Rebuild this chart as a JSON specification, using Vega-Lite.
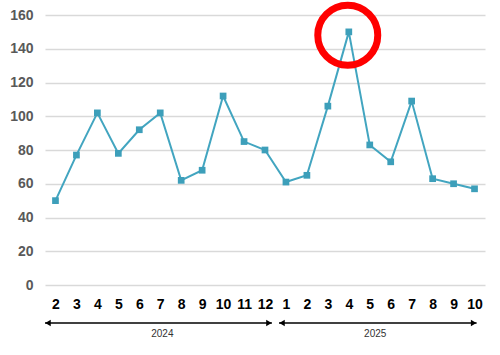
{
  "$schema": "https://vega.github.io/schema/vega-lite/v6.json",
  "width": 440,
  "height": 270,
  "autosize": {"type": "none"},
  "padding": {"left": 45, "top": 15, "right": 15, "bottom": 70},
  "background": "white",
  "config": {
    "view": {"stroke": null},
    "font": "Liberation Sans",
    "axis": {"labelOverlap": false, "labelFlush": false, "domain": false, "ticks": false, "title": null, "labelFontSize": 14, "labelFontWeight": "bold"},
    "axisX": {"grid": false, "labelColor": "#000000", "labelPadding": 12},
    "axisY": {"grid": true, "gridColor": "#d9d9d9", "gridWidth": 1.5, "labelColor": "#595959", "labelPadding": 12}
  },
  "datasets": {
    "series": [
      {"t": 0, "year": 2024, "month": 2, "value": 50},
      {"t": 1, "year": 2024, "month": 3, "value": 77},
      {"t": 2, "year": 2024, "month": 4, "value": 102},
      {"t": 3, "year": 2024, "month": 5, "value": 78},
      {"t": 4, "year": 2024, "month": 6, "value": 92},
      {"t": 5, "year": 2024, "month": 7, "value": 102},
      {"t": 6, "year": 2024, "month": 8, "value": 62},
      {"t": 7, "year": 2024, "month": 9, "value": 68},
      {"t": 8, "year": 2024, "month": 10, "value": 112},
      {"t": 9, "year": 2024, "month": 11, "value": 85},
      {"t": 10, "year": 2024, "month": 12, "value": 80},
      {"t": 11, "year": 2025, "month": 1, "value": 61},
      {"t": 12, "year": 2025, "month": 2, "value": 65},
      {"t": 13, "year": 2025, "month": 3, "value": 106},
      {"t": 14, "year": 2025, "month": 4, "value": 150},
      {"t": 15, "year": 2025, "month": 5, "value": 83},
      {"t": 16, "year": 2025, "month": 6, "value": 73},
      {"t": 17, "year": 2025, "month": 7, "value": 109},
      {"t": 18, "year": 2025, "month": 8, "value": 63},
      {"t": 19, "year": 2025, "month": 9, "value": 60},
      {"t": 20, "year": 2025, "month": 10, "value": 57}
    ],
    "highlight": [{"t": 13.95, "value": 148}],
    "years": [
      {"year": "2024", "start": -0.5, "end": 10.33, "mid": 5.1},
      {"year": "2025", "start": 10.67, "end": 20.1, "mid": 15.26}
    ]
  },
  "layer": [
    {
      "data": {"name": "series"},
      "mark": {
        "type": "line",
        "color": "#42a5c0",
        "strokeWidth": 2,
        "point": {"shape": "square", "size": 45, "filled": true, "color": "#3d9fba", "opacity": 1}
      },
      "encoding": {
        "x": {
          "field": "t",
          "type": "quantitative",
          "scale": {"domain": [-0.5, 20.5], "nice": false, "zero": false},
          "axis": {
            "values": [0,1,2,3,4,5,6,7,8,9,10,11,12,13,14,15,16,17,18,19,20],
            "tickCount": 30,
            "labelExpr": "((datum.value + 1) % 12) + 1"
          }
        },
        "y": {
          "field": "value",
          "type": "quantitative",
          "scale": {"domain": [0, 160], "nice": false},
          "axis": {
            "values": [0, 20, 40, 60, 80, 100, 120, 140, 160],
            "tickCount": 12
          }
        }
      }
    },
    {
      "data": {"name": "highlight"},
      "mark": {"type": "point", "shape": "circle", "filled": false, "size": 3600, "stroke": "#ff0000", "strokeWidth": 7, "opacity": 1},
      "encoding": {
        "x": {"field": "t", "type": "quantitative"},
        "y": {"field": "value", "type": "quantitative"}
      }
    },
    {
      "data": {"name": "years"},
      "mark": {"type": "rule", "color": "#000000", "strokeWidth": 1.5},
      "encoding": {
        "x": {"field": "start", "type": "quantitative"},
        "x2": {"field": "end"},
        "y": {"datum": -22.5}
      }
    },
    {
      "data": {"name": "years"},
      "mark": {"type": "point", "shape": "triangle-left", "filled": true, "size": 40, "color": "#000000", "opacity": 1, "xOffset": 3},
      "encoding": {
        "x": {"field": "start", "type": "quantitative"},
        "y": {"datum": -22.5}
      }
    },
    {
      "data": {"name": "years"},
      "mark": {"type": "point", "shape": "triangle-right", "filled": true, "size": 40, "color": "#000000", "opacity": 1, "xOffset": -3},
      "encoding": {
        "x": {"field": "end", "type": "quantitative"},
        "y": {"datum": -22.5}
      }
    },
    {
      "data": {"name": "years"},
      "mark": {"type": "text", "fontSize": 10, "color": "#333333", "baseline": "middle", "align": "center"},
      "encoding": {
        "x": {"field": "mid", "type": "quantitative"},
        "y": {"datum": -29},
        "text": {"field": "year"}
      }
    }
  ]
}
